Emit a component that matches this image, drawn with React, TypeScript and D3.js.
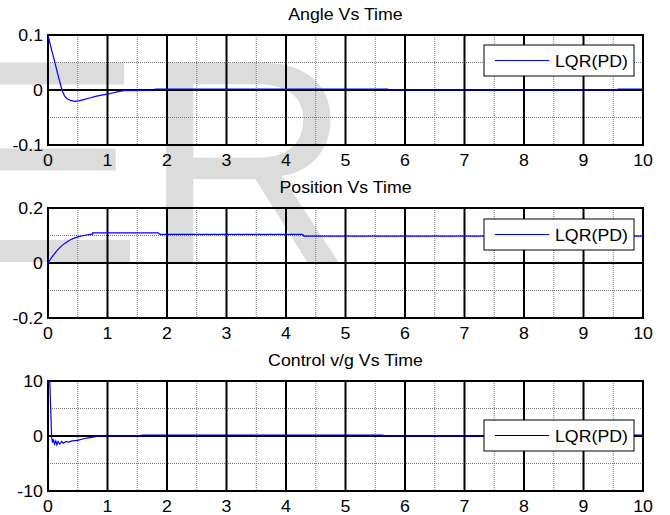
import React from 'react';
import * as d3 from 'd3';

// time ticks shared by all three subplots
const xTicks = [0, 1, 2, 3, 4, 5, 6, 7, 8, 9, 10];

// [t, value]
const angleData: [number, number][] = [
  [0, 0.1], [0.03, 0.086], [0.06, 0.073], [0.09, 0.061], [0.12, 0.048], [0.15, 0.035],
  [0.18, 0.022], [0.21, 0.01], [0.24, -0.002], [0.28, -0.011], [0.32, -0.016], [0.38, -0.019],
  [0.45, -0.0205], [0.52, -0.0198], [0.6, -0.0175], [0.7, -0.0145], [0.8, -0.0115], [0.9, -0.0092],
  [1.0, -0.0075], [1.1, -0.005], [1.2, -0.0025], [1.27, -0.001], [1.8, -0.0005], [1.8, 0.0015],
  [5.71, 0.0015], [5.71, 0], [9.58, 0], [9.58, 0.0015], [10, 0.0015],
];

const positionData: [number, number][] = [
  [0, 0], [0.05, 0.017], [0.1, 0.031], [0.15, 0.045], [0.2, 0.056], [0.25, 0.066],
  [0.3, 0.074], [0.35, 0.081], [0.4, 0.087], [0.5, 0.095], [0.6, 0.1], [0.7, 0.104],
  [0.75, 0.105], [0.75, 0.1097], [1.85, 0.1097], [1.88, 0.104], [4.28, 0.104],
  [4.3, 0.0976], [10, 0.0976],
];

const controlData: [number, number][] = [
  [0, 10], [0.03, 10], [0.06, 0], [0.075, -1.2], [0.09, -0.6], [0.11, -1.5], [0.13, -0.9],
  [0.15, -1.6], [0.17, -1.0], [0.2, -1.5], [0.23, -1.0], [0.26, -1.3], [0.3, -1.0],
  [0.35, -1.1], [0.4, -0.9], [0.5, -0.8], [0.6, -0.5], [0.7, -0.3], [0.8, -0.1],
  [0.85, 0], [1.575, 0], [1.575, 0.18], [5.63, 0.18], [5.63, 0], [9.49, 0], [9.49, 0.18],
  [10, 0.18],
];

const panels = [
  { title: 'Angle Vs Time', data: angleData, yTicks: [-0.1, 0, 0.1], yLabels: ['-0.1', '0', '0.1'],
    minorY: [-0.05, 0.05], top: 35, legendTop: 45, legendColor: '#0000ff' },
  { title: 'Position Vs Time', data: positionData, yTicks: [-0.2, 0, 0.2], yLabels: ['-0.2', '0', '0.2'],
    minorY: [-0.1, 0.1], top: 208, legendTop: 219, legendColor: '#0000ff' },
  { title: 'Control v/g Vs Time', data: controlData, yTicks: [-10, 0, 10], yLabels: ['-10', '0', '10'],
    minorY: [-5, 5], top: 381, legendTop: 420, legendColor: '#000000' },
];

const W = 670, H = 515;
const left = 48, right = 643, plotH = 110;
const font = 'Arial, "Liberation Sans", sans-serif';

// the reference text is a little wide, so stretch it sideways
function Label({ x, y, anchor = 'start', children }: { x: number; y: number; anchor?: string; children: React.ReactNode }) {
  return (
    <text transform={`translate(${x},${y}) scale(1.11,1)`} textAnchor={anchor} fontSize={16} fontFamily={font} fill="#000">
      {children}
    </text>
  );
}

function Panel({ p }: { p: typeof panels[number] }) {
  const x = d3.scaleLinear().domain([0, 10]).range([left, right]);
  const y = d3.scaleLinear().domain([p.yTicks[0], p.yTicks[2]]).range([p.top + plotH, p.top]);
  const line = d3.line<[number, number]>().x(d => x(d[0])).y(d => y(d[1]));
  const halfTicks = d3.range(0.5, 10, 1);
  const bottom = p.top + plotH;

  return (
    <g>
      <Label x={(left + right) / 2} y={p.top - 15} anchor="middle">{p.title}</Label>
      {/* minor grid */}
      {halfTicks.map(t => (
        <line key={'mx' + t} x1={x(t)} x2={x(t)} y1={p.top} y2={bottom} stroke="#777" strokeWidth={1} strokeDasharray="1 1" />
      ))}
      {p.minorY.map(v => (
        <line key={'my' + v} x1={left} x2={right} y1={y(v)} y2={y(v)} stroke="#777" strokeWidth={1} strokeDasharray="1 1" />
      ))}
      {/* major grid */}
      {xTicks.slice(1, -1).map(t => (
        <line key={'Mx' + t} x1={x(t)} x2={x(t)} y1={p.top} y2={bottom} stroke="#000" strokeWidth={2} />
      ))}
      <line x1={left} x2={right} y1={y(0)} y2={y(0)} stroke="#000" strokeWidth={2} />
      <rect x={left} y={p.top} width={right - left} height={plotH} fill="none" stroke="#000" strokeWidth={2} />
      <path d={line(p.data) ?? ''} fill="none" stroke="#0000ff" strokeWidth={1.2} />
      {xTicks.map(t => (
        <Label key={'xl' + t} x={x(t)} y={bottom + 21} anchor="middle">{t}</Label>
      ))}
      {p.yTicks.map((v, i) => (
        <Label key={'yl' + v} x={43} y={y(v) + 6} anchor="end">{p.yLabels[i]}</Label>
      ))}
      <g>
        <rect x={484} y={p.legendTop} width={150} height={31} fill="#fff" stroke="#000" strokeWidth={1} />
        <line x1={495} x2={549} y1={p.legendTop + 15.5} y2={p.legendTop + 15.5} stroke={p.legendColor} strokeWidth={1} />
        <Label x={555} y={p.legendTop + 22}>LQR(PD)</Label>
      </g>
    </g>
  );
}

export default function App() {
  return (
    <div style={{ position: 'absolute', left: 0, top: 0 }}>
      <svg width={W} height={H} style={{ display: 'block', background: '#fff' }}>
        {/* watermark behind the axes */}
        <text x={-51} y={262} fontSize={290} fontFamily={font} fill="#dcdcdc">ER</text>
        {panels.map(p => <Panel key={p.title} p={p} />)}
      </svg>
    </div>
  );
}
